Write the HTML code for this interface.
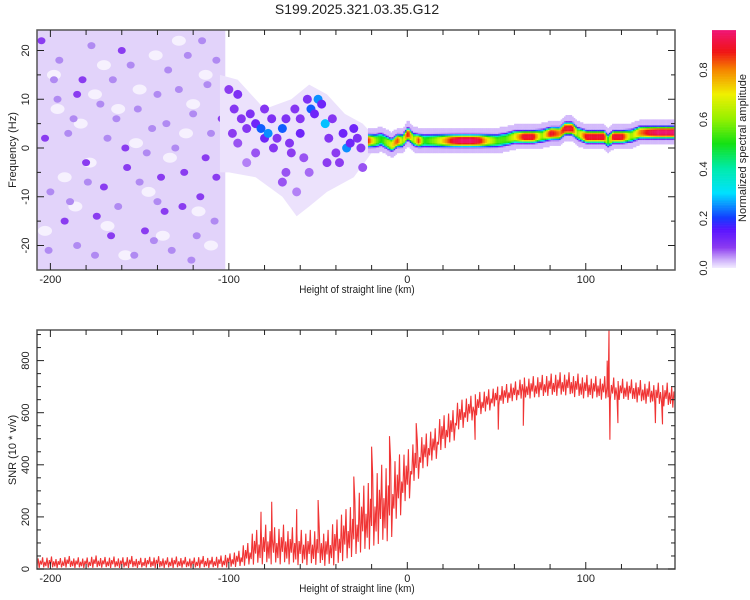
<!DOCTYPE html>
<html><head><meta charset="utf-8"><style>
html,body{margin:0;padding:0;background:#fff}
svg{display:block;font-family:"Liberation Sans",sans-serif}
</style></head><body>
<svg id="c" width="750" height="600" viewBox="0 0 750 600" xmlns="http://www.w3.org/2000/svg">
<text x="357" y="14" font-size="14" text-anchor="middle" fill="#222">S199.2025.321.03.35.G12</text>
<g id="topPanel"></g>
<g id="botPanel"></g>
<g id="cbPanel"></g>
</svg>
<script>
// ---------- data ----------
const ridgeX=[-22,-18,-15,-12,-9,-6,-3,0,3,6,9,12,15,20,25,30,35,40,45,50,55,60,65,70,75,80,85,88,92,95,100,105,110,112,115,120,125,130,135,140,145,150];
const ridgeF=[1.5,1.5,1.8,1.2,0.6,1.5,1.5,3,1.8,1.5,1.5,1.5,1.5,1.5,1.5,1.5,1.5,1.5,1.5,1.5,1.8,2.3,2.3,2.3,2.5,3,3,4,4,3,2.3,2.3,2.3,1.5,2.3,2.3,2.5,3.2,3.2,3.2,3.2,3.2];
const ridgeA=[.85,.6,.5,.6,.7,.85,.6,.9,.6,.85,.5,.55,.6,.75,.9,.95,.95,.9,.7,.55,.55,.7,.9,.9,.6,.9,.8,.9,.9,.6,.9,.9,.9,.5,.9,.9,.6,.8,.9,.95,.95,.95];
const midX=[-97,-95,-93,-90,-88,-85,-82,-80,-78,-76,-73,-70,-68,-66,-63,-60,-58,-56,-54,-52,-50,-48,-46,-44,-42,-40,-38,-36,-34,-32,-30,-28,-26,-25,-70,-68,-62,-55,-90,-95,-85,-75,-65,-45,-60,-80,-100,-98];
const midF=[8,11,6,4,7,5,4,2,3,6,2,4,6,1,8,3,-2,10,8,7,10,9,5,2,6,-1,-3,3,0,1,4,2,0,-4,-7,-5,-9,-5,-3,1,-1,0,-1,-3,6,8,12,3];
const midA=[.09,.1,.09,.09,.1,.12,.22,.12,.25,.1,.09,.22,.1,.09,.09,.12,.07,.1,.22,.12,.25,.12,.28,.09,.09,.08,.08,.12,.25,.12,.12,.1,.09,.07,.07,.07,.05,.06,.05,.07,.07,.09,.08,.08,.09,.09,.08,.08];
const hazeUpX=[-105,-95,-80,-65,-55,-45,-35,-25,-20];
const hazeUpF=[15,14,8,10,13,11,7,5,3];
const hazeLoX=[-20,-30,-45,-55,-62,-70,-85,-100,-105];
const hazeLoF=[-1,-6,-9,-12,-14,-10,-6,-5,-5];
const leftX=[-205,-195,-187,-180,-172,-165,-158,-150,-143,-136,-128,-120,-113,-107,-200,-192,-185,-177,-170,-162,-155,-147,-140,-132,-125,-118,-110,-203,-196,-189,-182,-175,-168,-160,-153,-146,-138,-130,-123,-116,-108,-201,-174,-151,-134,-126,-112,-190,-166,-142,-121,-104,-198,-179,-157,-135,-115,-185,-163,-140,-107];
const leftF=[22,18,6,-3,9,14,0,-7,4,-13,12,7,-2,18,-9,-15,-20,21,-8,-12,17,-17,11,-21,-5,-18,3,2,10,-11,14,-22,2,20,-22,-1,-6,0,19,-10,-15,-21,-14,8,16,-12,13,3,-18,-19,-23,6,14,-7,-4,5,22,11,6,-11,-6];
const whiteX=[-198,-183,-168,-150,-133,-117,-192,-175,-158,-141,-124,-110,-203,-186,-170,-152,-137,-120,-196,-178,-162,-145,-128,-113];
const whiteF=[15,5,-16,12,-2,-13,-6,11,-22,19,3,-20,-17,-12,17,1,-18,9,8,-3,8,-9,22,15];
const snrX=[];for(let k=-205;k<=150;k+=5)snrX.push(k);
const snrLo=[2,2,2,3,2,2,2,3,2,2,2,2,3,2,2,2,3,2,2,2,2,3,5,8,10,10,10,10,10,8,8,8,5,5,20,35,50,60,80,90,180,250,330,380,410,450,480,530,560,585,600,620,630,640,650,650,655,660,660,662,655,650,650,645,640,645,645,635,630,625,620,615];
const snrHi=[45,48,42,50,45,44,52,46,48,45,50,43,47,49,45,48,46,44,50,47,52,60,70,100,150,170,160,170,160,150,150,160,150,190,230,260,320,360,400,420,440,460,495,520,540,590,610,650,665,680,690,700,710,720,735,740,745,750,755,755,750,745,740,740,735,730,728,725,720,715,715,710];
const spikeX=[-82,-76,-62,-50,-30,-20,-10,5,38,51,65,112,113,113.5,118,139,143];
const spikeV=[220,258,230,265,355,470,510,560,496,535,550,800,920,496,560,560,555];
const cbTicks=[0,0.2,0.4,0.6,0.8];
const xTicks=[-200,-100,0,100];
const fTicks=[-20,-10,0,10,20];
const sTicks=[0,200,400,600,800];
// ---------- scales ----------
const PL=37,PR=675;
const xs=v=>PL+(v+207.5)*(PR-PL)/357.5;
const fy=v=>148-v*4.875;
const sy=v=>569-v*0.2605;
const NS='http://www.w3.org/2000/svg';
function mk(tag,at,par){const e=document.createElementNS(NS,tag);for(const k in at)e.setAttribute(k,at[k]);par.appendChild(e);return e;}
const stops=[[0,[240,232,255]],[0.03,[205,175,250]],[0.08,[140,60,240]],[0.15,[90,20,255]],[0.2,[20,60,255]],[0.3,[0,225,255]],[0.4,[0,235,170]],[0.5,[20,225,20]],[0.6,[150,240,0]],[0.7,[240,240,0]],[0.8,[245,130,0]],[0.87,[240,20,20]],[0.97,[240,20,130]]];
function cmap(v){v=Math.max(0,Math.min(0.97,v));for(let i=1;i<stops.length;i++){if(v<=stops[i][0]){const a=stops[i-1],b=stops[i],t=(v-a[0])/(b[0]-a[0]);return 'rgb('+a[1].map((c,j)=>Math.round(c+(b[1][j]-c)*t)).join(',')+')';}}return 'rgb(240,20,130)';}
function lerp(xa,ya,x){if(x<=xa[0])return ya[0];for(let i=1;i<xa.length;i++)if(x<=xa[i]){const t=(x-xa[i-1])/(xa[i]-xa[i-1]);return ya[i-1]+(ya[i]-ya[i-1])*t;}return ya[ya.length-1];}
// ---------- top panel ----------
const topG=document.getElementById('topPanel');
const cpT=mk('clipPath',{id:'cpT'},topG);mk('rect',{x:PL,y:30,width:PR-PL,height:240},cpT);
const tg=mk('g',{'clip-path':'url(#cpT)'},topG);
const lf=mk('rect',{x:PL,y:30,width:xs(-102)-PL,height:240,fill:'#e2d3fa'},tg);


for(let i=0;i<whiteX.length;i++){const e=mk('ellipse',{cx:xs(whiteX[i]),cy:fy(whiteF[i]),rx:7,ry:5,fill:'#f6f1fe'},tg);

}
for(let i=0;i<leftX.length;i++){const e=mk('ellipse',{cx:xs(leftX[i]),cy:fy(leftF[i]),rx:4,ry:3.5,fill:i%3===0?'#8a3cf0':'#b08af2'},tg);

}
let pts=[];hazeUpX.forEach((x,i)=>pts.push(xs(x)+','+fy(hazeUpF[i])));hazeLoX.forEach((x,i)=>pts.push(xs(x)+','+fy(hazeLoF[i])));
const hz=mk('polygon',{points:pts.join(' '),fill:'#ece2fc'},tg);


for(let i=0;i<midX.length;i++){const e=mk('ellipse',{cx:xs(midX[i]),cy:fy(midF[i]),rx:4.5,ry:4.5,fill:cmap(midA[i])},tg);

}
for(let x=-22;x<=150;x+=0.9){const fc=lerp(ridgeX,ridgeF,x),a=lerp(ridgeX,ridgeA,x);
 for(let f=-3;f<=8;f+=0.3){const d=Math.abs(f-fc);let v=a*Math.exp(-Math.pow(d/1.15,4));if(d<2.6)v=Math.max(v,0.025);if(v<0.02)continue;
 const c=mk('rect',{x:xs(x)-0.1,y:fy(f+0.15)-0.1,width:xs(x+0.9)-xs(x)+0.2,height:0.3*4.875+0.2,fill:cmap(v)},tg);
 
 }}
function axes(g,yT,yB,yTicks,ymap,minorY,ylabel,lblY){
 const fr=mk('rect',{x:PL,y:yT,width:PR-PL,height:yB-yT,fill:'none',stroke:'#555','stroke-width':1.5},g);
 
 
 for(let v=-200;v<=140;v+=20){const X=xs(v),len=v%100===0?7:5;mk('line',{x1:X,x2:X,y1:yB,y2:yB-len,stroke:'#222'},g);mk('line',{x1:X,x2:X,y1:yT,y2:yT+len,stroke:'#222'},g);}
 xTicks.forEach(v=>{const t=mk('text',{x:xs(v),y:yB+13,'font-size':11,'text-anchor':'middle',fill:'#222'},g);t.textContent=v;
 
 });
 minorY.forEach(v=>{const Y=ymap(v),len=yTicks.includes(v)?7:4;mk('line',{x1:PL,x2:PL+len,y1:Y,y2:Y,stroke:'#222'},g);mk('line',{x1:PR,x2:PR-len,y1:Y,y2:Y,stroke:'#222'},g);});
 yTicks.forEach(v=>{const Y=ymap(v);const t=mk('text',{x:0,y:0,'font-size':11,'text-anchor':'middle',fill:'#222',transform:`translate(29,${Y}) rotate(-90)`},g);t.textContent=v;
 
 });
 const xl=mk('text',{x:357,y:yB+23,'font-size':11,'text-anchor':'middle',fill:'#222',transform:`translate(357,0) scale(0.9,1) translate(-357,0)`},g);xl.textContent='Height of straight line (km)';
 
 
 const yl=mk('text',{x:0,y:0,'font-size':11,'text-anchor':'middle',fill:'#222',transform:`translate(16,${lblY}) rotate(-90)`},g);yl.textContent=ylabel;
 
 }
const fm=[];for(let v=-20;v<=20;v+=5)fm.push(v);
axes(topG,30,270,fTicks,fy,fm,'Frequency (Hz)',150);
// ---------- bottom panel ----------
const botG=document.getElementById('botPanel');
const cpB=mk('clipPath',{id:'cpB'},botG);mk('rect',{x:PL,y:330,width:PR-PL,height:239},cpB);
const pat=[0.2,0.9,0.05,0.7,0.35,1,0.1,0.6];
let P=[];snrX.forEach((c,i)=>{for(let k=0;k<8;k++)P.push([c-2.5+k*0.625,snrLo[i]+(snrHi[i]-snrLo[i])*pat[k]]);});
spikeX.forEach((x,i)=>P.push([x,spikeV[i]]));P.sort((a,b)=>a[0]-b[0]);
const ln=mk('polyline',{points:P.map(p=>xs(p[0]).toFixed(1)+','+sy(p[1]).toFixed(1)).join(' '),fill:'none',stroke:'#f03434','stroke-width':1.1,'clip-path':'url(#cpB)'},botG);


const sm=[];for(let v=0;v<=900;v+=50)sm.push(v);
axes(botG,330,569,sTicks,sy,sm,'SNR (10 * v/v)',450);
// ---------- colorbar ----------
const cbG=document.getElementById('cbPanel');
const cby=v=>268-v*247.5;
for(let v=0;v<0.96;v+=0.005){const r=mk('rect',{x:712,y:cby(v+0.005)-0.3,width:24,height:1.24+0.3,fill:cmap(v)},cbG);

}
cbTicks.forEach(v=>{const t=mk('text',{x:0,y:0,'font-size':11,'text-anchor':'middle',fill:'#222',transform:`translate(707,${cby(v)}) rotate(-90)`},cbG);t.textContent=v.toFixed(1);

});
const ct=mk('text',{x:0,y:0,'font-size':11,'text-anchor':'middle',fill:'#222',transform:'translate(746,148) rotate(-90)'},cbG);ct.textContent='Normalized spectral amplitude';


</script>
</body></html>
